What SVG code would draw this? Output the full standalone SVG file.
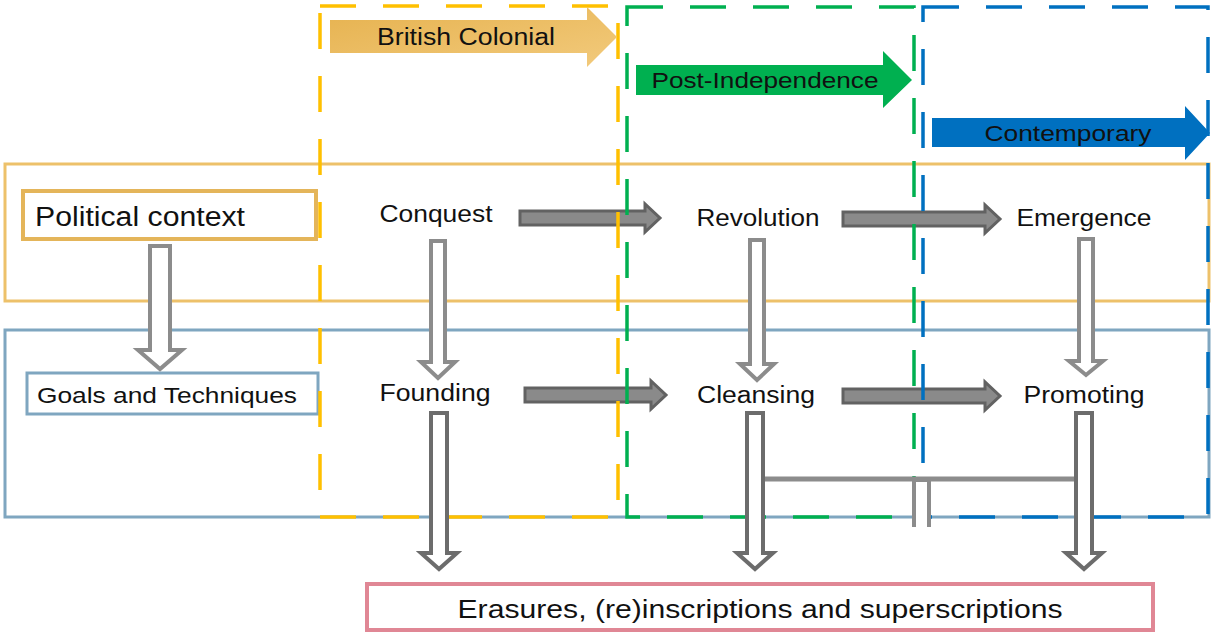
<svg xmlns="http://www.w3.org/2000/svg" width="1212" height="634" viewBox="0 0 1212 634">
  <style>
    .lbl { font-family: "Liberation Sans", Arial, sans-serif; fill: #111; }
    .band { fill: none; stroke-width: 3; }
    .era { fill: none; stroke-width: 3.5; stroke-dasharray: 36 27; }
    .flow { fill: #8a8a8a; stroke: #626262; stroke-width: 3; stroke-linejoin: miter; }
    .down-light { fill: #fff; stroke: #8c8c8c; stroke-width: 4; }
    .down-dark { fill: #fff; stroke: #6c6c6c; stroke-width: 4; }
  </style>
  <defs>
    <linearGradient id="goldFill" x1="0" y1="0" x2="1" y2="1">
      <stop offset="0" stop-color="#E6B24F"/>
      <stop offset="1" stop-color="#F2CA7C"/>
    </linearGradient>
  </defs>
  <rect width="1212" height="634" fill="#fff"/>

  <!-- horizontal bands -->
  <g id="band-political">
    <rect class="band" x="5" y="164" width="1204" height="137" stroke="#EDC16A"/>
  </g>
  <g id="band-goals">
    <rect class="band" x="5" y="330" width="1204" height="187" stroke="#7FA6C0"/>
  </g>

  <!-- row labels -->
  <g id="political-context">
    <rect x="23" y="191" width="293" height="48" fill="#fff" stroke="#E4B55A" stroke-width="4"/>
    <text class="lbl" x="35" y="226" font-size="27" textLength="210" lengthAdjust="spacingAndGlyphs">Political context</text>
  </g>
  <g id="goals-techniques">
    <rect x="27" y="373" width="291" height="41" fill="#fff" stroke="#7FA6C0" stroke-width="3"/>
    <text class="lbl" x="37" y="403" font-size="22" textLength="260" lengthAdjust="spacingAndGlyphs">Goals and Techniques</text>
  </g>

  <!-- horizontal flow arrows (under era frames) -->
  <g id="connectors-horizontal">
    <path class="flow" d="M520,211 H645 V204 L660,218 L645,232 V225 H520 Z"/>
    <path class="flow" d="M525,388 H651 V381 L666,395 L651,409 V402 H525 Z"/>
    <path class="flow" d="M843,212 H985 V205 L1000,219 L985,233 V226 H843 Z"/>
    <path class="flow" d="M843,389 H985 V382 L1000,396 L985,410 V403 H843 Z"/>
  </g>

  <!-- era frames -->
  <g id="era-british">
    <rect class="era" x="320" y="6" width="298" height="511" stroke="#FFC000"/>
    <path d="M330,20 H587 V7 L617,37 L587,67 V53 H330 Z" fill="url(#goldFill)"/>
    <text class="lbl" x="466" y="45" font-size="23" text-anchor="middle" textLength="178" lengthAdjust="spacingAndGlyphs">British Colonial</text>
  </g>
  <g id="era-post-independence">
    <rect class="era" x="627" y="7" width="287" height="510" stroke="#00B050"/>
    <path d="M636,65 H883 V51 L912,80 L883,108 V95 H636 Z" fill="#00B050"/>
    <text class="lbl" x="765" y="88" font-size="22" text-anchor="middle" textLength="227" lengthAdjust="spacingAndGlyphs">Post-Independence</text>
  </g>
  <g id="era-contemporary">
    <rect class="era" x="923" y="7" width="285" height="510" stroke="#0070C0"/>
    <path d="M932,118 H1185 V106 L1210,133 L1185,160 V147 H932 Z" fill="#0070C0"/>
    <text class="lbl" x="1068" y="141" font-size="22" text-anchor="middle" textLength="167" lengthAdjust="spacingAndGlyphs">Contemporary</text>
  </g>

  <!-- vertical arrows and the link between the lower arrows -->
  <g id="connectors-vertical">
    <path class="down-light" d="M150,246 H170 V350 H182 L160,369 L138,350 H150 Z"/>
    <path class="down-light" d="M431,241 H445 V362 H455 L438,378 L421,362 H431 Z"/>
    <path class="down-light" d="M750,240 H764 V364 H774 L757,380 L740,364 H750 Z"/>
    <path class="down-light" d="M1079,239 H1093 V361 H1103 L1086,375 L1069,361 H1079 Z"/>
    <path d="M765,479 H1076" fill="none" stroke="#8c8c8c" stroke-width="5"/>
    <rect x="916" y="482" width="11" height="46" fill="#fff"/>
    <path d="M914,527 V480 H929 V527" fill="none" stroke="#8c8c8c" stroke-width="4"/>
    <path class="down-dark" d="M431,413 H447 V553 H457 L439,569 L421,553 H431 Z"/>
    <path class="down-dark" d="M747,413 H763 V553 H773 L755,569 L737,553 H747 Z"/>
    <path class="down-dark" d="M1076,413 H1092 V553 H1102 L1084,569 L1066,553 H1076 Z"/>
  </g>

  <!-- stage labels -->
  <g id="conquest"><text class="lbl" x="436" y="222" font-size="23" text-anchor="middle" textLength="113" lengthAdjust="spacingAndGlyphs">Conquest</text></g>
  <g id="revolution"><text class="lbl" x="758" y="226" font-size="23" text-anchor="middle" textLength="123" lengthAdjust="spacingAndGlyphs">Revolution</text></g>
  <g id="emergence"><text class="lbl" x="1084" y="226" font-size="23" text-anchor="middle" textLength="135" lengthAdjust="spacingAndGlyphs">Emergence</text></g>
  <g id="founding"><text class="lbl" x="435" y="401" font-size="23" text-anchor="middle" textLength="111" lengthAdjust="spacingAndGlyphs">Founding</text></g>
  <g id="cleansing"><text class="lbl" x="756" y="403" font-size="23" text-anchor="middle" textLength="118" lengthAdjust="spacingAndGlyphs">Cleansing</text></g>
  <g id="promoting"><text class="lbl" x="1084" y="403" font-size="23" text-anchor="middle" textLength="121" lengthAdjust="spacingAndGlyphs">Promoting</text></g>

  <!-- outcome box -->
  <g id="erasures">
    <rect x="367" y="584" width="786" height="46" fill="#fff" stroke="#E08795" stroke-width="4"/>
    <text class="lbl" x="760" y="618" font-size="26" text-anchor="middle" textLength="605" lengthAdjust="spacingAndGlyphs">Erasures, (re)inscriptions and superscriptions</text>
  </g>
</svg>
